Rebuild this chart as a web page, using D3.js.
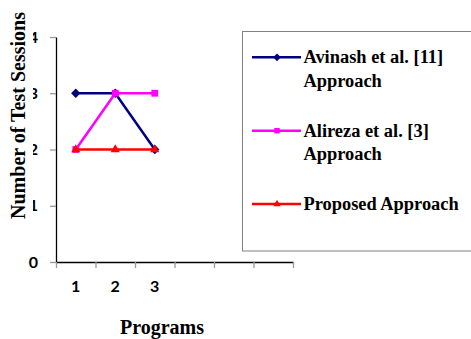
<!DOCTYPE html>
<html>
<head>
<meta charset="utf-8">
<script src="https://cdn.jsdelivr.net/npm/d3@7/dist/d3.min.js"></script>
<style>
  html, body { margin: 0; padding: 0; background: #fff; }
  svg { display: block; }
</style>
</head>
<body>
<svg id="chart" width="471" height="339"></svg>
<script>
// Category slots on the x axis (only the first three carry programs)
const slots = ["s1", "s2", "s3", "s4", "s5", "s6"];
const tickLabels = ["1", "2", "3", "", "", ""];
const programs = ["s1", "s2", "s3"];

// Number of test sessions per program
const avinash = [3, 3, 2];
const alireza = [2, 3, 3];
const proposed = [2, 2, 2];

const seriesNames = ["Avinash et al. [11]\nApproach", "Alireza et al. [3]\nApproach", "Proposed Approach"];
const seriesColors = ["#000080", "#FF00FF", "#FF0000"];
const seriesSymbols = [d3.symbolSquare, d3.symbolSquare, d3.symbolTriangle];
const seriesRotations = [45, 0, 0];
const seriesSymbolSizes = [44, 46, 36];
const legendSymbolSizes = [30, 30, 24];
const yTicks = [0, 1, 2, 3, 4];

const svg = d3.select("#chart");

const plot = { left: 56, right: 293, top: 37, bottom: 262 };

const x = d3.scaleBand().domain(slots).range([plot.left, plot.right]).padding(0);
const xEdges = d3.scaleLinear().domain([0, slots.length]).range([plot.left, plot.right]);
const y = d3.scaleLinear().domain([0, 4]).range([plot.bottom, plot.top]);

// Y axis
const yAxis = svg.append("g")
  .attr("transform", `translate(${plot.left},0)`)
  .call(d3.axisLeft(y).tickValues(yTicks).tickFormat(d3.format("d")).tickSize(6).tickPadding(12).tickSizeOuter(0));
yAxis.select(".domain").attr("stroke", "#000").attr("stroke-width", 1.3);
yAxis.selectAll(".tick line").attr("stroke", "#999").attr("stroke-width", 1.3);
yAxis.selectAll(".tick text")
  .attr("font-family", "Lato, 'Liberation Sans', sans-serif")
  .attr("font-weight", "bold")
  .attr("font-size", "16px")
  .attr("fill", "#000");

// X axis: boundary ticks between slots
const xTickAxis = svg.append("g")
  .attr("transform", `translate(0,${plot.bottom})`)
  .call(d3.axisBottom(xEdges).tickValues(d3.range(0, slots.length + 1)).tickFormat("").tickSize(6).tickSizeOuter(0));
xTickAxis.select(".domain").attr("stroke", "#000").attr("stroke-width", 1.3);
xTickAxis.selectAll(".tick line").attr("stroke", "#999").attr("stroke-width", 1.3);

// X axis: category labels at slot centres
const xLabelAxis = svg.append("g")
  .attr("transform", `translate(0,${plot.bottom})`)
  .call(d3.axisBottom(x).tickFormat((d, i) => tickLabels[i]).tickSize(0).tickPadding(19));
xLabelAxis.select(".domain").remove();
xLabelAxis.selectAll(".tick text")
  .attr("font-family", "Lato, 'Liberation Sans', sans-serif")
  .attr("font-weight", "bold")
  .attr("font-size", "16px")
  .attr("fill", "#000");

// Y axis title with its own white box
svg.append("rect").attr("x", 0).attr("y", 0).attr("width", 33).attr("height", 232).attr("fill", "#fff");
svg.append("text")
  .attr("transform", "translate(25,115.5) rotate(-90)")
  .attr("text-anchor", "middle")
  .attr("font-family", "'Liberation Serif', 'Times New Roman', serif")
  .attr("font-weight", "bold")
  .attr("font-size", "20px")
  .text("Number of Test Sessions");

// X axis title
svg.append("text")
  .attr("x", 162).attr("y", 334)
  .attr("text-anchor", "middle")
  .attr("font-family", "'Liberation Serif', 'Times New Roman', serif")
  .attr("font-weight", "bold")
  .attr("font-size", "20px")
  .text("Programs");

// Series lines and markers
const allSeries = [avinash, alireza, proposed];
const line = d3.line()
  .x((d, i) => x(programs[i]) + x.bandwidth() / 2)
  .y(d => y(d));

allSeries.forEach((vals, s) => {
  const g = svg.append("g");
  g.append("path")
    .datum(vals)
    .attr("d", line)
    .attr("fill", "none")
    .attr("stroke", seriesColors[s])
    .attr("stroke-width", 2.5);
  g.selectAll("path.marker")
    .data(vals)
    .join("path")
    .attr("class", "marker")
    .attr("transform", (d, i) => `translate(${x(programs[i]) + x.bandwidth() / 2},${y(d)}) rotate(${seriesRotations[s]})`)
    .attr("d", d3.symbol().type(seriesSymbols[s]).size(seriesSymbolSizes[s]))
    .attr("fill", seriesColors[s]);
});

// Legend
const legend = svg.append("g");
legend.append("rect")
  .attr("x", 242.5).attr("y", 31.5)
  .attr("width", 260).attr("height", 219.5)
  .attr("fill", "#fff")
  .attr("stroke", "#808080")
  .attr("stroke-width", 1);

const legendRows = [57.3, 130.7, 204];
seriesNames.forEach((name, s) => {
  const cy = legendRows[s];
  legend.append("line")
    .attr("x1", 252).attr("x2", 301)
    .attr("y1", cy).attr("y2", cy)
    .attr("stroke", seriesColors[s])
    .attr("stroke-width", 2.5);
  legend.append("path")
    .attr("transform", `translate(277,${cy}) rotate(${seriesRotations[s]})`)
    .attr("d", d3.symbol().type(seriesSymbols[s]).size(legendSymbolSizes[s]))
    .attr("fill", seriesColors[s]);
  const t = legend.append("text")
    .attr("x", 303.5).attr("y", cy + 6)
    .attr("font-family", "'Liberation Serif', 'Times New Roman', serif")
    .attr("font-weight", "bold")
    .attr("font-size", "18.4px")
    .attr("fill", "#000");
  name.split("\n").forEach((part, k) => {
    t.append("tspan").attr("x", 303.5).attr("dy", k === 0 ? 0 : 23.5).text(part);
  });
});
</script>
</body>
</html>
